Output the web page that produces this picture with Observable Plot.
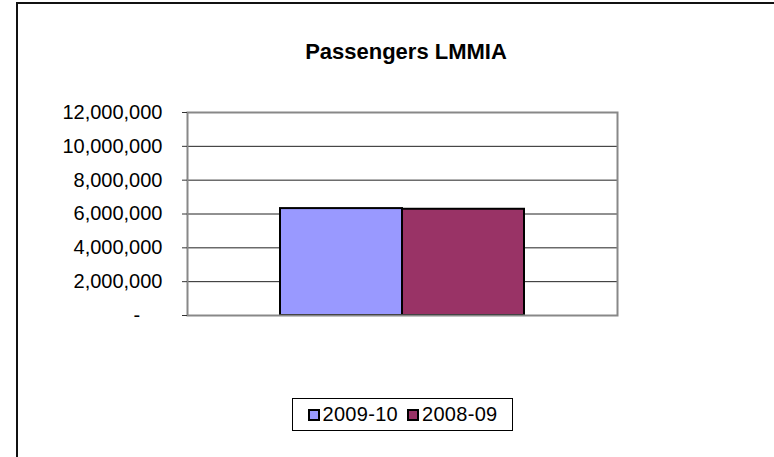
<!DOCTYPE html>
<html>
<head>
<meta charset="utf-8">
<script src="https://cdn.jsdelivr.net/npm/d3@7"></script>
<script src="https://cdn.jsdelivr.net/npm/@observablehq/plot@0.6"></script>
<style>
  html, body { margin: 0; padding: 0; background: white; }
  #wrap { position: relative; width: 774px; height: 457px; overflow: hidden; background: white; font-family: "Liberation Sans", Arial, sans-serif; }
  #outer { position: absolute; left: 16px; top: 2px; width: 900px; height: 600px; border-left: 2px solid #111; border-top: 2px solid #111; box-sizing: border-box; }
  #title { position: absolute; left: 0; width: 812px; top: 39px; line-height: 26px; text-align: center; font-weight: bold; font-size: 22px; color: #000; }
  #legend { position: absolute; left: 292px; top: 398px; width: 221px; height: 33px; border: 1px solid #000; box-sizing: border-box; display: flex; align-items: center; justify-content: center; gap: 9px; font-size: 20px; letter-spacing: 0.3px; }
  .item { display: flex; align-items: center; gap: 3px; }
  .sw { width: 12px; height: 12px; border: 2px solid #000; box-sizing: border-box; }
  #chart { position: absolute; left: 0; top: 0; }
</style>
</head>
<body>
<div id="wrap">
  <div id="chart"></div>
  <div id="outer"></div>
  <div id="title">Passengers LMMIA</div>
  <div id="legend"></div>
</div>
<script>
const periods = ["2009-10", "2008-09"];
const passengers = [6320000, 6280000];
const colors = ["#9999FF", "#993366"];
const yTicks = [0, 2000000, 4000000, 6000000, 8000000, 10000000, 12000000];
const chartTitle = "Passengers LMMIA";

const data = periods.map((p, i) => ({period: p, value: passengers[i]}));
const fmt = d3.format(",");

const plot = Plot.plot({
  width: 774,
  height: 457,
  marginLeft: 187,
  marginRight: 157,
  marginTop: 112,
  marginBottom: 142,
  style: {fontFamily: "'Liberation Sans', Arial, sans-serif", fontSize: "20px", color: "#000", background: "transparent"},
  x: {domain: periods, paddingInner: 0, paddingOuter: 0.748, axis: null},
  y: {domain: [0, 12000000]},
  color: {domain: periods, range: colors},
  marks: [
    Plot.gridY(yTicks, {stroke: "#222", strokeOpacity: 1, strokeWidth: 1}),
    Plot.barY(data, {x: "period", y: "value", fill: "period", stroke: "#000", strokeWidth: 2, inset: 0}),
    Plot.frame({stroke: "#888", strokeWidth: 2}),
    Plot.axisY({
      ticks: yTicks,
      tickSize: 5,
      tickPadding: 20,
      stroke: "#333",
      label: null,
      tickFormat: d => d === 0 ? "-\u00a0\u00a0\u00a0\u00a0" : fmt(d)
    })
  ]
});
document.getElementById("chart").appendChild(plot);

document.getElementById("title").textContent = chartTitle;
const legend = document.getElementById("legend");
periods.forEach((p, i) => {
  const item = document.createElement("div");
  item.className = "item";
  const sw = document.createElement("div");
  sw.className = "sw";
  sw.style.background = colors[i];
  const label = document.createElement("span");
  label.textContent = p;
  item.appendChild(sw);
  item.appendChild(label);
  legend.appendChild(item);
});
</script>
</body>
</html>
